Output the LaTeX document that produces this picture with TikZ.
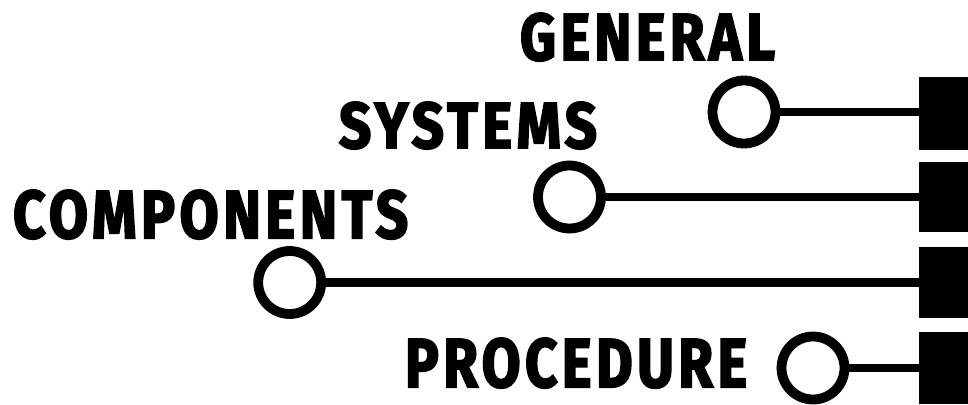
\documentclass[tikz,border=0pt]{standalone}
\usepackage{fontspec}
\usepackage{graphicx}
\newfontfamily\heavyfont[LetterSpace=8, BoldFeatures={FakeBold=3}]{Fira Sans}
\newcommand{\heavylabel}[3]{\resizebox{#1pt}{#2pt}{\heavyfont\bfseries #3}}
\tikzset{
  lbl/.style={inner sep=0pt, outer sep=0pt, anchor=base west, text=black},
  ring/.style={circle, draw=black, line width=9.8pt, minimum size=63pt, inner sep=0pt, fill=white},
  tab/.style={rectangle, fill=black, inner sep=0pt, outer sep=0pt, minimum width=49pt, anchor=north west},
  link/.style={draw=black, line width=8.5pt}
}
\begin{document}
\begin{tikzpicture}[x=1pt,y=-1pt]
  \useasboundingbox[fill=white] (0,0) rectangle (968,404);
  % labels
  \node[lbl] (t1) at (520,60)  {\heavylabel{255}{47}{GENERAL}};
  \node[lbl] (t2) at (339,148) {\heavylabel{258}{46}{SYSTEMS}};
  \node[lbl] (t3) at (13,238)  {\heavylabel{395}{48}{COMPONENTS}};
  \node[lbl] (t4) at (405,387) {\heavylabel{342}{49}{PROCEDURE}};
  % tabs
  \node[tab, minimum height=73pt] (b1) at (919,77)  {};
  \node[tab, minimum height=70pt] (b2) at (919,162) {};
  \node[tab, minimum height=71pt] (b3) at (919,247) {};
  \node[tab, minimum height=72pt] (b4) at (919,332) {};
  % rings
  \node[ring] (c1) at (744,112) {};
  \node[ring] (c2) at (569.5,197) {};
  \node[ring] (c3) at (289.7,282.5) {};
  \node[ring] (c4) at (813,368) {};
  % links
  \draw[link] (c1.east) -- (c1.east -| b1.west);
  \draw[link] (c2.east) -- (c2.east -| b2.west);
  \draw[link] (c3.east) -- (c3.east -| b3.west);
  \draw[link] (c4.east) -- (c4.east -| b4.west);
\end{tikzpicture}
\end{document}
